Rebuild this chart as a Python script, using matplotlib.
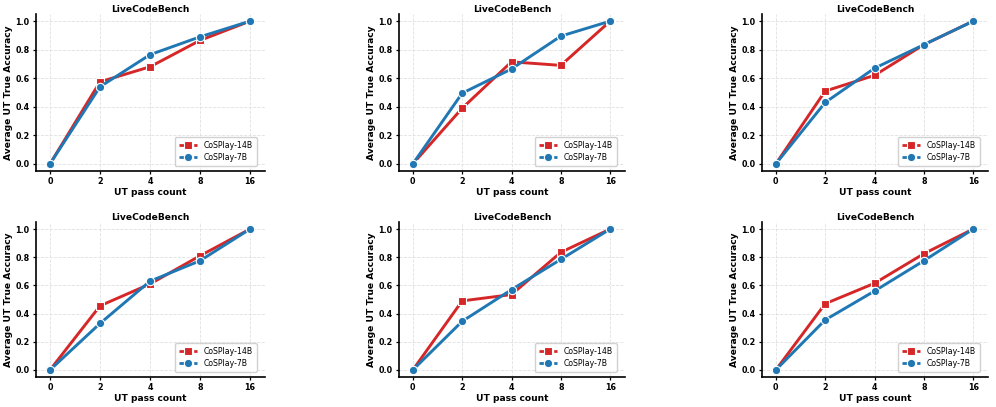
import numpy as np
import matplotlib
matplotlib.use("Agg")
import matplotlib.pyplot as plt
from matplotlib.lines import Line2D

# x axis categories (UT pass count)
pass_counts = ["0", "2", "4", "8", "16"]

# values, row by row
acc_14b_1 = [0.0, 0.575, 0.68, 0.865, 1.0]
acc_7b_1 = [0.0, 0.54, 0.765, 0.89, 1.0]
acc_14b_2 = [0.0, 0.39, 0.715, 0.69, 1.0]
acc_7b_2 = [0.0, 0.495, 0.665, 0.895, 1.0]
acc_14b_3 = [0.0, 0.51, 0.62, 0.835, 1.0]
acc_7b_3 = [0.0, 0.43, 0.67, 0.835, 1.0]
acc_14b_4 = [0.0, 0.455, 0.61, 0.81, 1.0]
acc_7b_4 = [0.0, 0.33, 0.63, 0.775, 1.0]
acc_14b_5 = [0.0, 0.49, 0.535, 0.835, 1.0]
acc_7b_5 = [0.0, 0.345, 0.57, 0.785, 1.0]
acc_14b_6 = [0.0, 0.47, 0.615, 0.825, 1.0]
acc_7b_6 = [0.0, 0.355, 0.56, 0.775, 1.0]

panels = [
    (acc_14b_1, acc_7b_1), (acc_14b_2, acc_7b_2), (acc_14b_3, acc_7b_3),
    (acc_14b_4, acc_7b_4), (acc_14b_5, acc_7b_5), (acc_14b_6, acc_7b_6),
]

RED = "#d62728"
BLUE = "#1f77b4"

W, H = 996, 407
fig = plt.figure(figsize=(W / 100, H / 100), dpi=100)

# axes boxes in pixels: (left, right) per column, (top, bottom) per row
cols = [(36, 265), (399, 625), (762, 988)]
rows = [(14, 171), (222, 377)]

x = np.arange(len(pass_counts))

# legend handles (dashed line + marker, as in the reference)
handles = [
    Line2D([], [], color=RED, lw=2.0, ls="--", marker="s", ms=6,
           markeredgecolor="white", markeredgewidth=0.8),
    Line2D([], [], color=BLUE, lw=2.0, ls="--", marker="o", ms=6,
           markeredgecolor="white", markeredgewidth=0.8),
]
labels = ["CoSPlay-14B", "CoSPlay-7B"]

for i, (a14, a7) in enumerate(panels):
    l, r = cols[i % 3]
    t, b = rows[i // 3]
    ax = fig.add_axes([l / W, 1 - b / H, (r - l) / W, (b - t) / H])
    ax.plot(x, a14, color=RED, lw=2.1, marker="s", ms=6,
            markeredgecolor="white", markeredgewidth=0.8, zorder=3)
    ax.plot(x, a7, color=BLUE, lw=2.1, marker="o", ms=6,
            markeredgecolor="white", markeredgewidth=0.8, zorder=4)
    ax.set_xticks(x)
    ax.set_xticklabels(pass_counts)
    ax.set_xlim(-0.28, 4.3)
    ax.set_ylim(-0.05, 1.05)
    ax.set_yticks([0.0, 0.2, 0.4, 0.6, 0.8, 1.0])
    ax.grid(True, linestyle="--", color="#e0e0e0", linewidth=0.6)
    ax.set_axisbelow(True)
    for s in ["top", "right"]:
        ax.spines[s].set_visible(False)
    for s in ["left", "bottom"]:
        ax.spines[s].set_linewidth(1.2)
    ax.tick_params(labelsize=5.8, width=0.9, length=2.5, pad=2)
    for lab in ax.get_xticklabels() + ax.get_yticklabels():
        lab.set_fontweight("bold")
    ax.set_title("LiveCodeBench", fontsize=6.6, fontweight="bold", pad=1)
    ax.set_xlabel("UT pass count", fontsize=6.6, fontweight="bold", labelpad=1)
    ax.set_ylabel("Average UT True Accuracy", fontsize=6.6, fontweight="bold", labelpad=1.5)
    ax.legend(handles, labels, loc="lower right", fontsize=5.6, framealpha=0.9,
              handlelength=2.4, borderpad=0.5, labelspacing=0.35,
              bbox_to_anchor=(0.98, 0.01))

fig.savefig("out.png", dpi=100)
